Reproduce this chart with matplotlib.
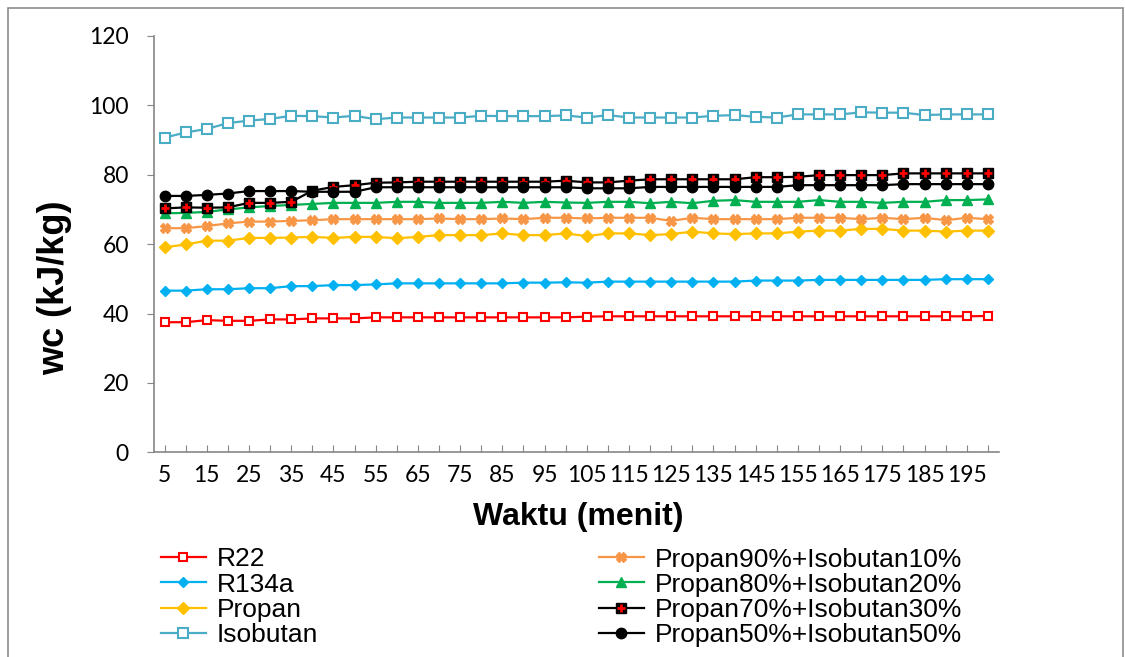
import matplotlib.pyplot as plt
from matplotlib.patches import Rectangle

# waktu (menit) and wc (kJ/kg) per refrigerant
waktu = [5, 10, 15, 20, 25, 30, 35, 40, 45, 50, 55, 60, 65, 70, 75, 80, 85, 90, 95, 100,
         105, 110, 115, 120, 125, 130, 135, 140, 145, 150, 155, 160, 165, 170, 175, 180, 185, 190, 195, 200]

r22 = [37.5, 37.5, 38.1, 37.9, 37.9, 38.3, 38.3, 38.6, 38.6, 38.6, 38.9, 38.9, 38.9, 38.9, 38.9, 38.9, 38.9, 38.9, 38.9, 38.9,
       39.1, 39.2, 39.2, 39.2, 39.2, 39.2, 39.2, 39.2, 39.2, 39.2, 39.2, 39.2, 39.2, 39.2, 39.2, 39.2, 39.2, 39.2, 39.2, 39.3]
r134a = [46.6, 46.6, 47.0, 47.0, 47.3, 47.3, 47.9, 47.9, 48.2, 48.2, 48.4, 48.7, 48.7, 48.7, 48.7, 48.7, 48.7, 48.9, 48.9, 49.0,
         48.9, 49.2, 49.2, 49.2, 49.2, 49.2, 49.2, 49.2, 49.5, 49.5, 49.5, 49.7, 49.7, 49.7, 49.7, 49.7, 49.7, 49.9, 49.9, 49.9]
propan = [59.1, 59.9, 61.0, 61.0, 61.8, 61.8, 61.9, 62.1, 61.8, 62.1, 62.1, 61.7, 62.1, 62.6, 62.6, 62.6, 63.1, 62.6, 62.6, 63.1,
          62.3, 63.1, 63.1, 62.6, 62.9, 63.6, 63.1, 62.9, 63.1, 63.1, 63.6, 63.9, 63.9, 64.4, 64.4, 63.9, 63.9, 63.6, 63.9, 63.9]
isobutan = [90.7, 92.2, 93.2, 94.9, 95.6, 96.1, 97.0, 96.9, 96.5, 97.0, 96.0, 96.5, 96.5, 96.5, 96.5, 97.0, 96.9, 96.9, 96.9, 97.1,
            96.5, 97.2, 96.5, 96.5, 96.5, 96.5, 97.0, 97.2, 96.7, 96.5, 97.4, 97.4, 97.4, 98.0, 97.9, 97.9, 97.2, 97.4, 97.4, 97.4]
p90_i10 = [64.6, 64.6, 65.2, 66.0, 66.5, 66.5, 66.7, 66.9, 67.2, 67.2, 67.2, 67.2, 67.2, 67.4, 67.2, 67.2, 67.4, 67.2, 67.6, 67.6,
           67.4, 67.6, 67.6, 67.6, 66.7, 67.6, 67.2, 67.2, 67.2, 67.2, 67.6, 67.6, 67.6, 67.2, 67.6, 67.2, 67.6, 66.9, 67.6, 67.2]
p80_i20 = [68.9, 69.0, 69.3, 70.0, 70.6, 71.0, 71.3, 71.6, 71.9, 71.9, 71.9, 72.2, 72.2, 71.9, 71.9, 71.9, 72.2, 71.9, 72.2, 72.0,
           71.9, 72.2, 72.2, 71.8, 72.2, 71.8, 72.5, 72.7, 72.2, 72.2, 72.2, 72.7, 72.2, 72.2, 71.9, 72.2, 72.2, 72.7, 72.7, 72.9]
p70_i30 = [70.3, 70.6, 70.5, 70.6, 71.9, 71.9, 72.2, 75.4, 76.5, 77.0, 77.7, 77.8, 78.0, 78.0, 78.0, 78.0, 78.0, 78.0, 78.0, 78.3,
           77.8, 77.8, 78.3, 78.7, 78.7, 78.7, 78.7, 78.7, 79.3, 79.3, 79.4, 79.9, 79.9, 79.9, 79.9, 80.4, 80.4, 80.4, 80.4, 80.4]
p50_i50 = [73.9, 73.9, 74.2, 74.6, 75.3, 75.3, 75.3, 75.1, 75.1, 75.1, 76.4, 76.4, 76.4, 76.4, 76.4, 76.4, 76.4, 76.4, 76.4, 76.4,
           76.1, 76.1, 76.1, 76.5, 76.5, 76.5, 76.5, 76.5, 76.5, 76.5, 77.0, 77.0, 77.0, 77.0, 77.0, 77.3, 77.3, 77.3, 77.3, 77.3]

W, H = 1125, 657
fig = plt.figure(figsize=(W / 100, H / 100), dpi=100)
ax = fig.add_axes([154 / W, 1 - 452.3 / H, 844.5 / W, 416.3 / H])

x = list(range(len(waktu)))
lw = 1.6

h_r22, = ax.plot(x, r22, color='#FF0000', lw=lw, marker='s', ms=6, mfc='white', mec='#FF0000', mew=1.5, label='R22')
h_r134a, = ax.plot(x, r134a, color='#00B0F0', lw=lw, marker='D', ms=5.5, mfc='#00B0F0', mec='#00B0F0', label='R134a')
h_prop, = ax.plot(x, propan, color='#FFC000', lw=lw, marker='D', ms=6, mfc='#FFC000', mec='#FFC000', label='Propan')
h_iso, = ax.plot(x, isobutan, color='#4BACC6', lw=lw, marker='s', ms=6.5, mfc='white', mec='#4BACC6', mew=1.5, label='Isobutan')
h_p90, = ax.plot(x, p90_i10, color='#F79646', lw=lw, marker='X', ms=7, mfc='#F79646', mec='#F79646', label='Propan90%+Isobutan10%')
h_p80, = ax.plot(x, p80_i20, color='#00B050', lw=lw, marker='^', ms=6.5, mfc='#00B050', mec='#00B050', label='Propan80%+Isobutan20%')
h_p70, = ax.plot(x, p70_i30, color='black', lw=lw, marker='s', ms=7, mfc='black', mec='black')
h_p70b, = ax.plot(x, p70_i30, ls='none', marker='+', ms=5.5, mew=2, color='#FF0000')
h_p50, = ax.plot(x, p50_i50, color='black', lw=lw, marker='o', ms=7.5, mfc='black', mec='black', label='Propan50%+Isobutan50%')

ax.set_xlim(-0.5, len(waktu) - 0.5)
ax.set_ylim(0, 120)
ax.set_yticks(range(0, 121, 20))
ax.set_xticks(x)
ax.set_xticklabels([str(w) if i % 2 == 0 else '' for i, w in enumerate(waktu)])

for s in ['top', 'right']:
    ax.spines[s].set_visible(False)
for s in ['left', 'bottom']:
    ax.spines[s].set_color('#868686')
    ax.spines[s].set_linewidth(1.2)

ax.tick_params(axis='y', direction='out', length=5, color='#868686', labelsize=16.5, pad=13)
ax.tick_params(axis='x', direction='in', length=5, color='#868686', labelsize=16.5, pad=9)
for lab in ax.get_xticklabels() + ax.get_yticklabels():
    lab.set_family('Lato')

ax.set_xlabel('Waktu (menit)', family='Liberation Sans', fontweight='bold', fontsize=23, va='center')
ax.xaxis.set_label_coords(0.502, -0.155)
ax.set_ylabel('wc (kJ/kg)', family='Liberation Sans', fontweight='bold', fontsize=26, va='center')
ax.yaxis.set_label_coords(-0.118, 0.395)

leg_kw = dict(loc='upper left', frameon=False, borderpad=0, borderaxespad=0, handlelength=1.7,
              handletextpad=0.42, labelspacing=0.045, prop=dict(family='Liberation Sans', size=19))
fig.legend(handles=[h_r22, h_r134a, h_prop, h_iso], labels=['R22', 'R134a', 'Propan', 'Isobutan'],
           bbox_to_anchor=(161 / W, 1 - 547.5 / H), **leg_kw)
fig.legend(handles=[h_p90, h_p80, (h_p70, h_p70b), h_p50],
           labels=['Propan90%+Isobutan10%', 'Propan80%+Isobutan20%', 'Propan70%+Isobutan30%', 'Propan50%+Isobutan50%'],
           bbox_to_anchor=(599 / W, 1 - 547.5 / H), **leg_kw)

# chart area border
fig.patches.append(Rectangle((8 / W, -0.1), (1123 - 8) / W, 1.1 - 8 / H, transform=fig.transFigure,
                             fill=False, ec='#8c8c8c', lw=1.2))

fig.savefig('out.png', dpi=100)
